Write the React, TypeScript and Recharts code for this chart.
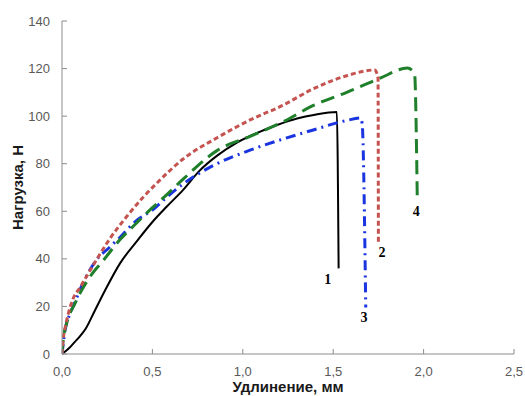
import { ComposedChart, Line, Scatter, XAxis, YAxis } from 'recharts';

// Нагрузка (Н) vs удлинение (мм), four specimens
const curve1 = [
  { x: 0, y: 0 }, { x: 0.04, y: 2.5 }, { x: 0.07, y: 5 }, { x: 0.1, y: 7.5 }, { x: 0.13, y: 10.5 },
  { x: 0.18, y: 18 }, { x: 0.24, y: 27 }, { x: 0.32, y: 38 }, { x: 0.42, y: 48 }, { x: 0.5, y: 55.5 },
  { x: 0.58, y: 62 }, { x: 0.67, y: 69 }, { x: 0.76, y: 77 }, { x: 0.86, y: 83.5 },
  { x: 0.97, y: 89 }, { x: 1.08, y: 93 }, { x: 1.19, y: 96.3 }, { x: 1.3, y: 99 }, { x: 1.4, y: 100.6 },
  { x: 1.52, y: 101.7 }, { x: 1.53, y: 36 },
];

const curve2 = [
  { x: 0, y: 0 }, { x: 0.005, y: 5 }, { x: 0.02, y: 12 }, { x: 0.035, y: 17 }, { x: 0.06, y: 23 },
  { x: 0.1, y: 28 }, { x: 0.17, y: 37 }, { x: 0.265, y: 48.5 }, { x: 0.36, y: 58 }, { x: 0.45, y: 66 },
  { x: 0.54, y: 73 }, { x: 0.67, y: 82 }, { x: 0.86, y: 91 }, { x: 1.04, y: 98.4 },
  { x: 1.22, y: 104.5 }, { x: 1.39, y: 111.5 }, { x: 1.575, y: 117 }, { x: 1.73, y: 119.4 },
  { x: 1.748, y: 116 }, { x: 1.75, y: 47 },
];

const curve3 = [
  { x: 0, y: 0 }, { x: 0.017, y: 10 }, { x: 0.045, y: 17 }, { x: 0.07, y: 21.5 }, { x: 0.117, y: 30 },
  { x: 0.19, y: 39.5 }, { x: 0.265, y: 45 }, { x: 0.32, y: 49 }, { x: 0.41, y: 56 }, { x: 0.5, y: 60.5 },
  { x: 0.58, y: 66 }, { x: 0.67, y: 71.5 }, { x: 0.857, y: 80 }, { x: 1.04, y: 85.7 }, { x: 1.22, y: 90.3 },
  { x: 1.39, y: 94.2 }, { x: 1.575, y: 98.2 }, { x: 1.65, y: 99.2 }, { x: 1.66, y: 97 }, { x: 1.68, y: 19.5 },
];

const curve4 = [
  { x: 0, y: 0 }, { x: 0.005, y: 5 }, { x: 0.03, y: 14 }, { x: 0.07, y: 21 }, { x: 0.11, y: 27 },
  { x: 0.155, y: 32.5 }, { x: 0.23, y: 39.5 }, { x: 0.32, y: 48 }, { x: 0.39, y: 53.4 }, { x: 0.5, y: 61.5 },
  { x: 0.58, y: 67 }, { x: 0.67, y: 73.5 }, { x: 0.857, y: 85.5 }, { x: 1.04, y: 91.5 }, { x: 1.22, y: 97.5 },
  { x: 1.39, y: 104.5 }, { x: 1.575, y: 110 }, { x: 1.76, y: 116 }, { x: 1.91, y: 120.2 },
  { x: 1.95, y: 118 }, { x: 1.965, y: 65.5 },
];

const curveLabels = [
  { x: 1.47, y: 31.5, name: '1' },
  { x: 1.77, y: 42.5, name: '2' },
  { x: 1.67, y: 15.5, name: '3' },
  { x: 1.96, y: 60, name: '4' },
];

const xTicks = [0, 0.5, 1, 1.5, 2, 2.5];
const yTicks = [0, 20, 40, 60, 80, 100, 120, 140];

const axisColor = '#8c8c8c';
const tickStyle = { fontSize: 13, fill: '#595959', fontFamily: '"Liberation Sans", Arial, sans-serif' };
const titleStyle = { fontSize: 15, fontWeight: 'bold', fill: '#1a1a1a', fontFamily: '"Liberation Sans", Arial, sans-serif' };

const CurveLabel = (props: any) => (
  <text
    x={props.cx}
    y={props.cy}
    textAnchor="middle"
    dominantBaseline="central"
    fontSize={14}
    fontWeight="bold"
    fontFamily='"Liberation Serif", "Times New Roman", serif'
    fill="#000"
  >
    {props.payload.name}
  </text>
);

export default function App() {
  return (
    <div style={{ position: 'absolute', left: 0, top: 0, background: '#fff' }}>
      <ComposedChart width={525} height={396} margin={{ top: 21, right: 11, bottom: 0, left: 2 }}>
        <XAxis
          type="number"
          dataKey="x"
          domain={[0, 2.5]}
          ticks={xTicks}
          tickFormatter={(v: number) => v.toFixed(1).replace('.', ',')}
          tick={tickStyle}
          stroke={axisColor}
          tickSize={-5}
          tickMargin={18}
          height={42}
          allowDataOverflow
          label={{ value: 'Удлинение, мм', position: 'insideBottom', offset: 4, style: titleStyle }}
        />
        <YAxis
          type="number"
          dataKey="y"
          domain={[0, 140]}
          ticks={yTicks}
          tick={tickStyle}
          stroke={axisColor}
          tickSize={-5}
          tickMargin={17}
          width={60}
          label={{
            value: 'Нагрузка, Н',
            angle: -90,
            position: 'insideLeft',
            offset: 16,
            style: { ...titleStyle, textAnchor: 'middle' },
          }}
        />
        <Line data={curve1} dataKey="y" type="monotone" stroke="#000" strokeWidth={2} dot={false} isAnimationActive={false} />
        <Line data={curve3} dataKey="y" type="monotone" stroke="#1a35e0" strokeWidth={3} strokeDasharray="10 5 2 5" dot={false} isAnimationActive={false} />
        <Line data={curve4} dataKey="y" type="monotone" stroke="#1f7f2a" strokeWidth={3} strokeDasharray="14 7" dot={false} isAnimationActive={false} />
        <Line data={curve2} dataKey="y" type="monotone" stroke="#c55451" strokeWidth={3} strokeDasharray="5 3" dot={false} isAnimationActive={false} />
        <Scatter data={curveLabels} dataKey="y" shape={CurveLabel} isAnimationActive={false} />
      </ComposedChart>
    </div>
  );
}
